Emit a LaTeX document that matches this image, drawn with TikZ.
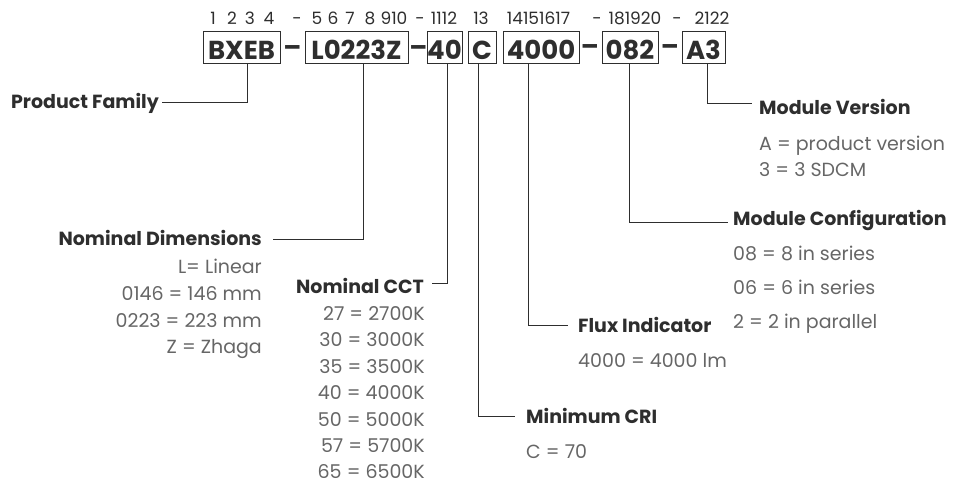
\documentclass[tikz,border=0pt]{standalone}
\usepackage{fontspec}
\setmainfont{Poppins}
\definecolor{ink}{HTML}{2E2E2E}
\definecolor{subc}{HTML}{666666}
\begin{document}
\begin{tikzpicture}[x=1pt,y=-1pt,
  codebox/.style={draw=ink, line width=1pt, inner sep=0pt, minimum height=32pt,
    text height=24pt, text depth=0pt, text=ink,
    font=\fontsize{26}{26}\selectfont\bfseries},
  dashtxt/.style={inner sep=0pt, anchor=base, text=ink, font=\fontsize{26}{26}\selectfont\bfseries},
  digit/.style={inner sep=0pt, anchor=base, text=ink, font=\fontsize{17}{17}\selectfont},
  lbl/.style={inner sep=0pt, text=ink, font=\fontsize{19}{19}\selectfont\bfseries},
  subt/.style={inner sep=0pt, text=subc, font=\fontsize{19}{19}\selectfont},
  conn/.style={draw=ink, line width=1pt}]
\useasboundingbox (0,0) rectangle (955,484);

% position digits
\node[digit] (n1) at (213,25) {1};
\node[digit] (n2) at (232,25) {2};
\node[digit] (n3) at (250,25) {3};
\node[digit] (n4) at (269,25) {4};
\node[digit] (h1) at (297,25) {-};
\node[digit] (n5) at (317,25) {5};
\node[digit] (n6) at (333,25) {6};
\node[digit] (n7) at (350,25) {7};
\node[digit] (n8) at (370,25) {8};
\node[digit] (n910) at (394,25) {910};
\node[digit] (h2) at (420,25) {-};
\node[digit] (n1112) at (444,25) {1112};
\node[digit] (n13) at (481,25) {13};
\node[digit] (n1417) at (538.5,25) {14151617};
\node[digit] (h3) at (597,25) {-};
\node[digit] (n1820) at (635,25) {181920};
\node[digit] (h4) at (677,25) {-};
\node[digit] (n2122) at (712,25) {2122};

% code boxes
\node[codebox, minimum width=77pt]  (bxeb)  at (241.5,48) {BXEB};
\node[codebox, minimum width=103pt] (l0223z) at (356.5,48) {L0223Z};
\node[codebox, minimum width=35pt]  (b40)   at (444.5,48) {40};
\node[codebox, minimum width=28pt]  (bc)    at (482,48) {C};
\node[codebox, minimum width=76pt]  (b4000) at (541,48) {4000};
\node[codebox, minimum width=56pt]  (b082)  at (630,48) {082};
\node[codebox, minimum width=43pt]  (ba3)   at (703.5,48) {A3};

\node[dashtxt] (d1) at (292.5,60) {\raisebox{3pt}{–}};
\node[dashtxt] (d2) at (418.5,60) {\raisebox{3.5pt}{–}};
\node[dashtxt] (d3) at (590,60) {\raisebox{4pt}{–}};
\node[dashtxt] (d4) at (670,60) {\raisebox{4pt}{–}};

% labels
\node[lbl, anchor=base east] (pf) at (159,109) {Product Family};
\node[lbl, anchor=base east] (nd) at (262,245) {Nominal Dimensions};
\node[subt, anchor=base east] (nd1) at (262,273) {L= Linear};
\node[subt, anchor=base east] (nd2) at (262,300) {0146 = 146 mm};
\node[subt, anchor=base east] (nd3) at (262,327) {0223 = 223 mm};
\node[subt, anchor=base east] (nd4) at (262,353) {Z = Zhaga};

\node[lbl, anchor=base east] (cct) at (424,293) {Nominal CCT};
\node[subt, anchor=base east] (cct1) at (425,320) {27 = 2700K};
\node[subt, anchor=base east] (cct2) at (425,346) {30 = 3000K};
\node[subt, anchor=base east] (cct3) at (425,373) {35 = 3500K};
\node[subt, anchor=base east] (cct4) at (425,399) {40 = 4000K};
\node[subt, anchor=base east] (cct5) at (425,426) {50 = 5000K};
\node[subt, anchor=base east] (cct6) at (425,452) {57 = 5700K};
\node[subt, anchor=base east] (cct7) at (425,478) {65 = 6500K};

\node[lbl, anchor=base west] (cri) at (526,423) {Minimum CRI};
\node[subt, anchor=base west] (cri1) at (526,458) {C = 70};

\node[lbl, anchor=base west] (flux) at (578,332) {Flux Indicator};
\node[subt, anchor=base west] (flux1) at (578,367) {4000 = 4000 lm};

\node[lbl, anchor=base west] (cfg) at (733,225) {Module Configuration};
\node[subt, anchor=base west] (cfg1) at (733,260) {08 = 8 in series};
\node[subt, anchor=base west] (cfg2) at (733,294) {06 = 6 in series};
\node[subt, anchor=base west] (cfg3) at (733,328) {2 = 2 in parallel};

\node[lbl, anchor=base west] (ver) at (759,115) {Module Version};
\node[subt, anchor=base west] (ver1) at (759,150) {A = product version};
\node[subt, anchor=base west] (ver2) at (759,176) {3 = 3 SDCM};

% connector ends
\coordinate (pfE) at (162,103);
\coordinate (ndE) at (273,239);
\coordinate (cctE) at (432,283);
\coordinate (criE) at (515,416);
\coordinate (fluxE) at (568,325);
\coordinate (cfgE) at (728,222);
\coordinate (verE) at (752,104);

\draw[conn] ([xshift=5.5pt]bxeb.south) |- (pfE);
\draw[conn] ([xshift=6.5pt]l0223z.south) |- (ndE);
\draw[conn] ([xshift=2.5pt]b40.south) |- (cctE);
\draw[conn] ([xshift=-4pt]bc.south) |- (criE);
\draw[conn] ([xshift=-13pt]b4000.south) |- (fluxE);
\draw[conn] ([xshift=-1pt]b082.south) |- (cfgE);
\draw[conn] ([xshift=3.5pt]ba3.south) |- (verE);
\end{tikzpicture}
\end{document}
